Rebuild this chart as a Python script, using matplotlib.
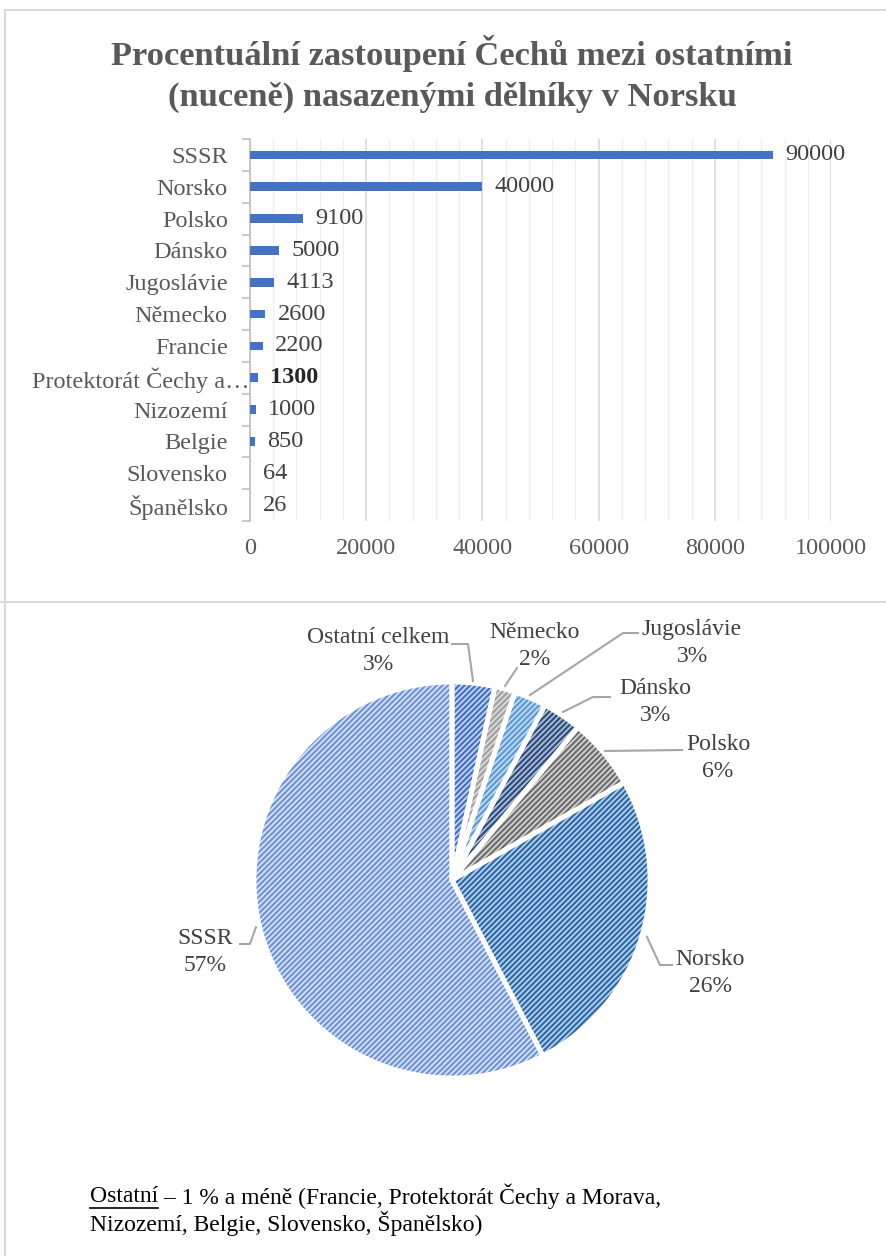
import matplotlib
matplotlib.use("Agg")
import matplotlib.pyplot as plt
from matplotlib.lines import Line2D
import matplotlib.transforms as mtrans
import numpy as np

plt.rcParams['font.family'] = ['Liberation Serif', 'DejaVu Serif']
plt.rcParams['hatch.linewidth'] = 1.6

# ---------------- data ----------------
title = "Procentuální zastoupení Čechů mezi ostatními\n(nuceně) nasazenými dělníky v Norsku"
bar_labels = ["SSSR", "Norsko", "Polsko", "Dánsko", "Jugoslávie", "Německo", "Francie",
              "Protektorát Čechy a…", "Nizozemí", "Belgie", "Slovensko", "Španělsko"]
bar_values = [90000, 40000, 9100, 5000, 4113, 2600, 2200, 1300, 1000, 850, 64, 26]
bar_bold = [False] * 7 + [True] + [False] * 4
x_ticks = [0, 20000, 40000, 60000, 80000, 100000]

pie_labels = ["Ostatní celkem", "Německo", "Jugoslávie", "Dánsko", "Polsko", "Norsko", "SSSR"]
pie_values = [5440, 2600, 4113, 5000, 9100, 40000, 90000]
pie_pct_text = ["3%", "2%", "3%", "3%", "6%", "26%", "57%"]
pie_face = ["#C9D7F0", "#DDDDDD", "#C5DDF2", "#B4C3DC", "#D6D6D6", "#BDD5EE", "#DCE5F5"]
pie_hatch = ["#4472C4", "#A0A0A0", "#5B9BD5", "#2F4E7E", "#6E6E6E", "#2E6AA8", "#6F94D8"]

footnote_line1 = " – 1 % a méně (Francie, Protektorát Čechy a Morava,"
footnote_line2 = "Nizozemí, Belgie, Slovensko, Španělsko)"

W, H = 886, 1256
fig = plt.figure(figsize=(W / 100, H / 100), dpi=100)

def fx(px):
    return px / W

def fy(py):
    return 1 - py / H

# frames
border = "#D9D9D9"
fig.add_artist(Line2D([fx(5), fx(886)], [fy(10), fy(10)], color=border, lw=1.5))
fig.add_artist(Line2D([fx(5), fx(5)], [fy(10), fy(602)], color=border, lw=1.5))
fig.add_artist(Line2D([fx(0), fx(886)], [fy(602), fy(602)], color=border, lw=1.5))
fig.add_artist(Line2D([fx(5), fx(5)], [fy(602), fy(1256)], color=border, lw=1.5))

# title
fig.text(fx(452), fy(74), title, ha="center", va="center", fontsize=24.8, fontweight="bold",
         color="#595959", linespacing=1.38)

# ---------------- bar chart ----------------
ax = fig.add_axes([fx(250), fy(521), fx(831 - 250), (521 - 139) / H])
n = len(bar_labels)
ypos = np.arange(n)
ax.barh(ypos, bar_values, height=0.27, color="#4472C4", zorder=3)
ax.set_ylim(n - 0.5, -0.5)
ax.set_xlim(0, 100000)
ax.set_xticks(x_ticks)
ax.set_xticklabels([str(t) for t in x_ticks], fontsize=17.5, color="#595959")
ax.set_xticks(np.arange(0, 100001, 4000), minor=True)
ax.grid(axis="x", which="major", color="#D9D9D9", lw=1.2, zorder=0)
ax.grid(axis="x", which="minor", color="#EFEFEF", lw=1.0, zorder=0)
ax.set_yticks(ypos)
ax.set_yticklabels(bar_labels, fontsize=17.5, color="#595959")
ax.set_yticks(np.arange(-0.5, n, 1.0), minor=True)
ax.tick_params(axis="y", which="major", length=0, pad=16)
ax.tick_params(axis="y", which="minor", length=6, color="#BFBFBF", width=1.2)
ax.tick_params(axis="x", which="both", length=0, pad=12)
for s in ["top", "right", "bottom"]:
    ax.spines[s].set_visible(False)
ax.spines["left"].set_color("#BFBFBF")
ax.spines["left"].set_linewidth(1.2)
# the truncated long label reaches into the axis in the original
for lbl in ax.get_yticklabels():
    if lbl.get_text().startswith("Protektor"):
        lbl.set_transform(lbl.get_transform() +
                          mtrans.ScaledTranslation(22 / 100, 0, fig.dpi_scale_trans))
for yv, v, b in zip(ypos, bar_values, bar_bold):
    ax.annotate(str(v), (v, yv), xytext=(9, 0), textcoords="offset points",
                ha="left", va="center", fontsize=17.5,
                fontweight="bold" if b else "normal",
                color="#262626" if b else "#404040")

# ---------------- pie chart ----------------
cx, cy, R = 452, 880, 198
xl, yl = 2.15, 1.5
pax = fig.add_axes([fx(cx - xl * R), fy(cy + yl * R), xl * 2 * R / W, yl * 2 * R / H])

wedges, _ = pax.pie(pie_values, startangle=90, counterclock=False, radius=1,
                    colors=pie_face, wedgeprops=dict(linewidth=0))
for w, hc in zip(wedges, pie_hatch):
    w.set_hatch("//////")
    w.set_edgecolor(hc)
    w.set_linewidth(0)
pax.pie(pie_values, startangle=90, counterclock=False, radius=1,
        colors=["none"] * len(pie_values),
        wedgeprops=dict(edgecolor="white", linewidth=3.5))
pax.set_aspect("auto")
pax.set_xlim(-xl, xl)
pax.set_ylim(-yl, yl)
pax.axis("off")

def d(px, py):
    return ((px - cx) / R, (cy - py) / R)

label_pos = [(378, 651), (535, 646), (692, 643), (655, 702), (718, 758), (710, 973), (205, 952)]
leaders = [
    [(452, 644), (468, 644), (473, 681)],
    [(517, 668), (505, 686)],
    [(638, 633), (623, 633), (530, 695)],
    [(610, 697), (593, 697), (563, 712)],
    [(682, 750), (605, 751)],
    [(672, 965), (660, 965), (647, 937)],
    [(240, 944), (250, 944), (256, 927)],
]
for lab, pct, (px, py), pts in zip(pie_labels, pie_pct_text, label_pos, leaders):
    tx, ty = d(px, py)
    pax.text(tx, ty, lab + "\n" + pct, ha="center", va="center", fontsize=17,
             color="#404040", linespacing=1.4)
    xs, ys = zip(*[d(a, b) for a, b in pts])
    pax.plot(xs, ys, color="#A6A6A6", lw=1.5)

# ---------------- footnote ----------------
t1 = fig.text(fx(90), fy(1196), "Ostatní", ha="left", va="center", fontsize=17, color="black")
fig.canvas.draw()
bb = t1.get_window_extent()
fig.text(bb.x1 / W, fy(1196), footnote_line1, ha="left", va="center", fontsize=17, color="black")
fig.add_artist(Line2D([bb.x0 / W, bb.x1 / W], [fy(1208), fy(1208)], color="black", lw=1.2))
fig.text(fx(90), fy(1224), footnote_line2, ha="left", va="center", fontsize=17, color="black")

fig.savefig("out.png", dpi=100)
